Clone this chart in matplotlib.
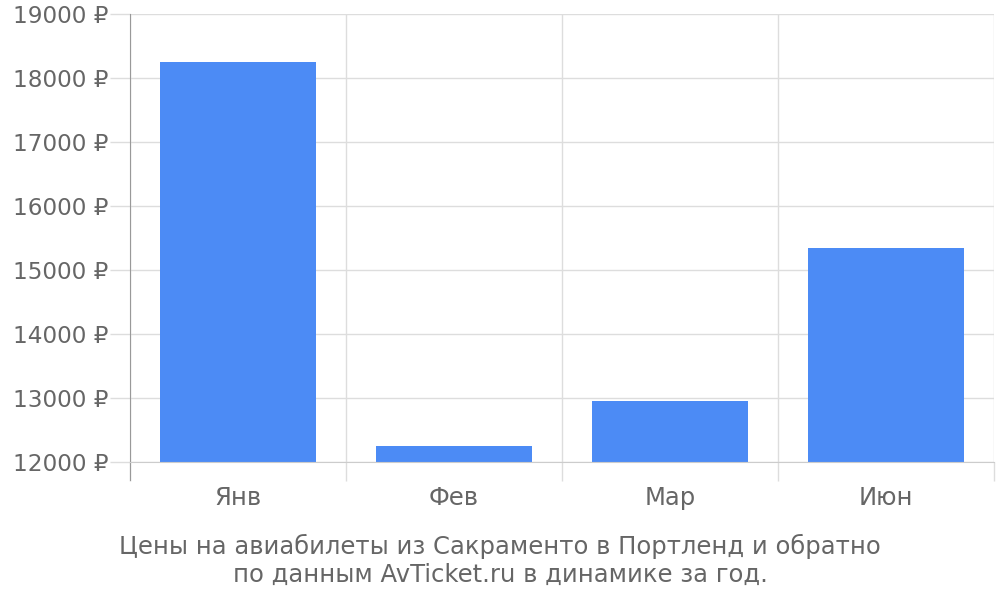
import matplotlib.pyplot as plt
from matplotlib.ticker import FixedLocator

# Prices by month (rubles)
months = ['Янв', 'Фев', 'Мар', 'Июн']
prices = [18250, 12245, 12955, 15345]
y_ticks = [12000, 13000, 14000, 15000, 16000, 17000, 18000, 19000]
caption = ('Цены на авиабилеты из Сакраменто в Портленд и обратно\n'
           'по данным AvTicket.ru в динамике за год.')

plt.rcParams['font.family'] = ['DejaVu Sans']
text_color = '#666666'
grid_color = '#dddddd'

fig = plt.figure(figsize=(10, 6), dpi=100)
ax = fig.add_axes([0.13, 0.23, 0.864, 0.7467])

x = list(range(len(months)))
ax.bar(x, prices, width=0.72, color='#4c8bf5', zorder=3)

ax.set_xlim(-0.5, len(months) - 0.5)
ax.set_ylim(y_ticks[0], y_ticks[-1])
ax.set_yticks(y_ticks)
ax.set_yticklabels([f'{v} ₽' for v in y_ticks])
ax.set_xticks(x)
ax.set_xticklabels(months)
ax.xaxis.set_minor_locator(FixedLocator([i - 0.5 for i in range(len(months) + 1)]))

ax.grid(axis='y', color=grid_color, linewidth=1, zorder=0)
ax.grid(axis='x', which='minor', color=grid_color, linewidth=1, zorder=0)

ax.tick_params(axis='y', length=14.4, width=1, color=grid_color, pad=1,
               labelsize=16.7, labelcolor=text_color)
ax.tick_params(axis='x', which='major', length=0, pad=17,
               labelsize=17.5, labelcolor=text_color)
ax.tick_params(axis='x', which='minor', length=14, width=1, color=grid_color)

for side in ['top', 'right']:
    ax.spines[side].set_visible(False)
ax.spines['left'].set_color('#999999')
ax.spines['left'].set_bounds(y_ticks[0] - 280, y_ticks[-1])
ax.spines['bottom'].set_color('#cccccc')
ax.spines['left'].set_zorder(4)
ax.spines['bottom'].set_zorder(4)
ax.set_clip_on(False)

fig.text(0.5, 0.066, caption, ha='center', va='center', fontsize=17.5,
         color=text_color, linespacing=1.2)

fig.savefig('out.png', dpi=100)
